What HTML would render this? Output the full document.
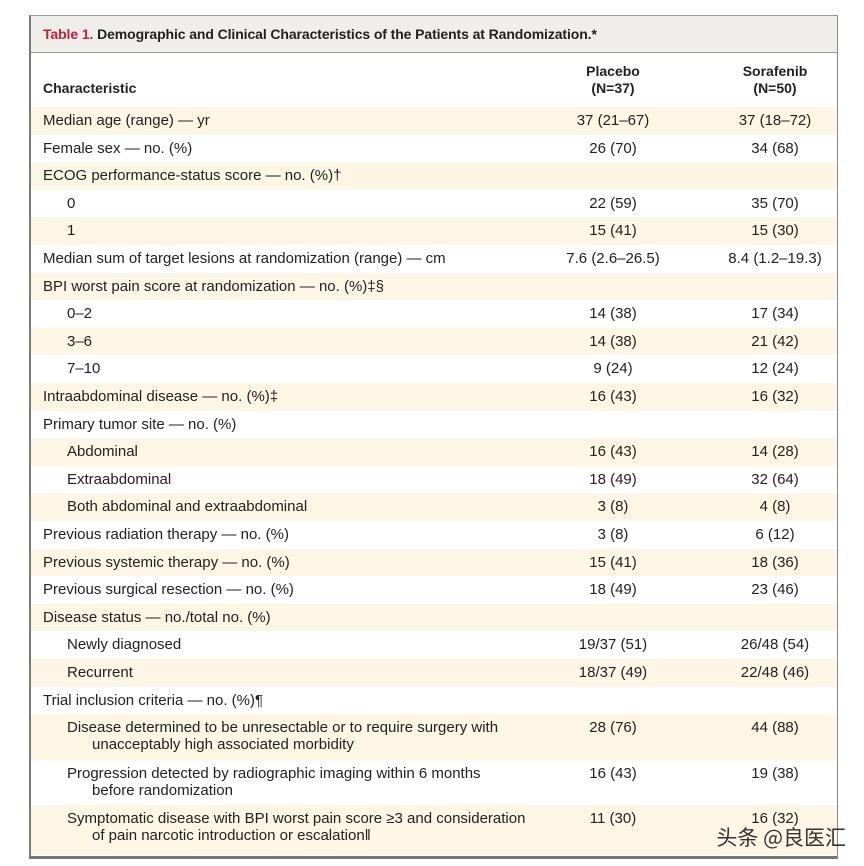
<!DOCTYPE html>
<html><head><meta charset="utf-8"><style>
body{margin:0;background:#fff;width:864px;height:866px;position:relative;font-family:"Liberation Sans",Arial,sans-serif;color:#222;overflow:hidden}
.frame{position:absolute;left:29px;top:15px;width:806px;height:840px;border:2px solid #7a7a7a;border-top:1px solid #999;border-right:1px solid #888;border-bottom:3px solid #777}
.title{position:absolute;left:0;top:0;width:806px;height:36px;background:#efeeea;border-bottom:1px solid #999;font-size:14px;font-weight:bold;line-height:36px;text-indent:12px;letter-spacing:-0.1px}
.title span{color:#c3203c}
.hdr{position:absolute;font-size:14px;font-weight:bold;line-height:17px;text-align:center}
.row{position:absolute;left:0;width:806px;font-size:15px;line-height:17px}
.s{background:#fdf6e4}
.c1{position:absolute;left:12px;top:5px}
.ind{left:36px}
.p{position:absolute;left:532px;width:100px;text-align:center;top:5px}
.q{position:absolute;left:694px;width:100px;text-align:center;top:5px}
.wm{position:absolute;right:18px;bottom:14px;font-size:21px;color:#333;font-family:"Noto Sans CJK SC",sans-serif}
</style></head><body>
<div class="frame">
<div class="title"><span>Table 1.</span> Demographic and Clinical Characteristics of the Patients at Randomization.*</div>
<div class="hdr" style="left:12px;top:64px;text-align:left">Characteristic</div>
<div class="hdr" style="left:532px;top:47px;width:100px">Placebo<br>(N=37)</div>
<div class="hdr" style="left:694px;top:47px;width:100px">Sorafenib<br>(N=50)</div>
<div id="rows"></div>
</div>
<div class="wm">头条 @良医汇</div>
<script>
var d=[["Median age (range) — yr","37 (21–67)","37 (18–72)"],["Female sex — no. (%)","26 (70)","34 (68)"],["ECOG performance-status score — no. (%)†","",""],["#0","22 (59)","35 (70)"],["#1","15 (41)","15 (30)"],["Median sum of target lesions at randomization (range) — cm","7.6 (2.6–26.5)","8.4 (1.2–19.3)"],["BPI worst pain score at randomization — no. (%)‡§","",""],["#0–2","14 (38)","17 (34)"],["#3–6","14 (38)","21 (42)"],["#7–10","9 (24)","12 (24)"],["Intraabdominal disease — no. (%)‡","16 (43)","16 (32)"],["Primary tumor site — no. (%)","",""],["#Abdominal","16 (43)","14 (28)"],["#Extraabdominal","18 (49)","32 (64)"],["#Both abdominal and extraabdominal","3 (8)","4 (8)"],["Previous radiation therapy — no. (%)","3 (8)","6 (12)"],["Previous systemic therapy — no. (%)","15 (41)","18 (36)"],["Previous surgical resection — no. (%)","18 (49)","23 (46)"],["Disease status — no./total no. (%)","",""],["#Newly diagnosed","19/37 (51)","26/48 (54)"],["#Recurrent","18/37 (49)","22/48 (46)"],["Trial inclusion criteria — no. (%)¶","",""],["#Disease determined to be unresectable or to require surgery with<br>&nbsp;&nbsp;&nbsp;&nbsp;&nbsp;&nbsp;unacceptably high associated morbidity","28 (76)","44 (88)"],["#Progression detected by radiographic imaging within 6 months<br>&nbsp;&nbsp;&nbsp;&nbsp;&nbsp;&nbsp;before randomization","16 (43)","19 (38)"],["#Symptomatic disease with BPI worst pain score ≥3 and consideration<br>&nbsp;&nbsp;&nbsp;&nbsp;&nbsp;&nbsp;of pain narcotic introduction or escalation‖","11 (30)","16 (32)"]];
var h="",y=91;
d.forEach(function(r,i){var t=r[0],ind=t[0]=="#";if(ind)t=t.slice(1);var two=t.indexOf("<br>")>0;var ht=two?(i==24?50:45.5):27.6;
h+='<div class="row'+(i%2==0?' s':'')+'" style="top:'+y+'px;height:'+ht+'px"><div class="c1'+(ind?' ind':'')+'">'+t+'</div><div class="p">'+r[1]+'</div><div class="q">'+r[2]+'</div></div>';y+=ht;});
document.getElementById("rows").innerHTML=h;
</script>
</body></html>
